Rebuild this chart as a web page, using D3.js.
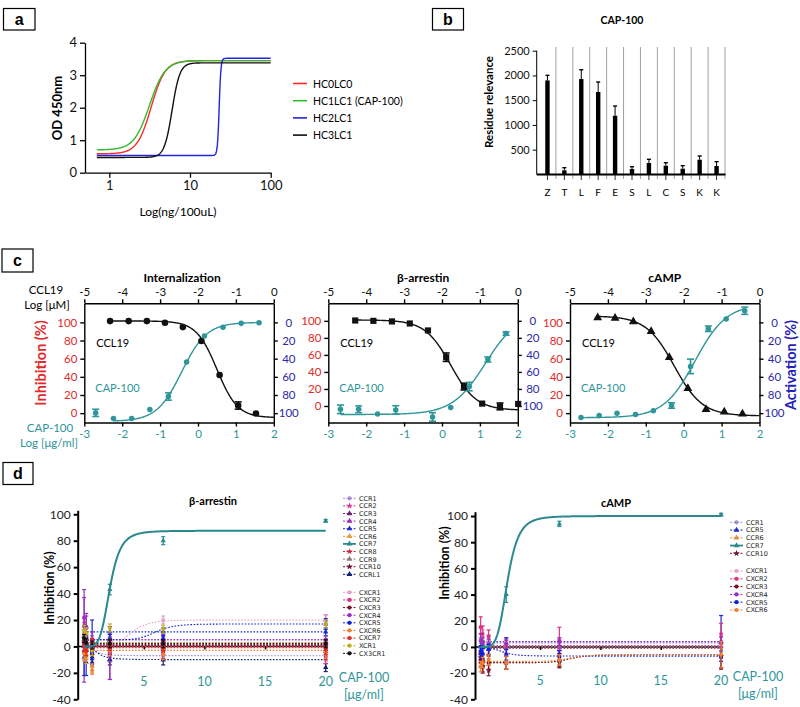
<!DOCTYPE html>
<html><head><meta charset="utf-8">
<script src="https://cdn.jsdelivr.net/npm/d3@7"></script>
<style>body{margin:0;background:#fff}svg{display:block}text{font-family:Lato,'Liberation Sans',Arial,sans-serif}</style>
</head><body><svg id="c" width="800" height="707"></svg>
<script>
// ================= DATA =================
// Panel a : ELISA 4PL fits
const aSeries = ["HC0LC0","HC1LC1 (CAP-100)","HC2LC1","HC3LC1"];
const aBottom = [0.58, 0.70, 0.53, 0.47];
const aTop    = [3.45, 3.45, 3.52, 3.38];
const aEC50   = [3.3, 3.15, 23, 6.0];
const aHill   = [5, 4.5, 40, 9];
const aXRange = [0.7, 100];
const aXTicks = [1, 10, 100];
const aYTicks = [0, 1, 2, 3, 4];
// Panel b : residue relevance
const bResidues = ["Z","T","L","F","E","S","L","C","S","K","K"];
const bValues = [1900, 83, 1927, 1665, 1186, 109, 230, 176, 115, 297, 170];
const bErrors = [102, 52, 188, 202, 196, 47, 75, 60, 61, 75, 87];
const bYTicks = [500, 1000, 1500, 2000, 2500];
// Panel c : dose responses (CCL19 log uM / CAP-100 log ug/ml)
const cTitles = ["Internalization", "β-arrestin", "cAMP"];
const cTopTicks = [-5, -4, -3, -2, -1, 0];
const cBottomTicks = [-3, -2, -1, 0, 1, 2];
const cLeftTicks = [0, 20, 40, 60, 80, 100];
const cLeftDomain = [[-10.3, 121], [-19.4, 120.6], [-10.3, 121]];
const ccl19X = [
  [-4.32,-3.83,-3.35,-2.87,-2.40,-1.91,-1.43,-0.94,-0.47],
  [-4.29,-3.81,-3.32,-2.85,-2.37,-1.89,-1.42,-0.94,-0.47,0.01],
  [-4.27,-3.81,-3.33,-2.86,-2.38,-1.89,-1.41,-0.93,-0.45]];
const ccl19Y = [
  [101.4,101.4,101.4,99.6,94.8,79.4,42,8.4,-0.4],
  [100.4,100,99.3,96.9,88.7,57.3,22.8,2.8,-0.5,2.4],
  [105.1,104.7,100.7,90,61.4,27.2,4.1,1.4,-0.8]];
const ccl19Err = [
  [0,0,0,0,0,0,0,4,0],
  [0,0,0,0,0,5,4,0,4,0],
  [0,0,0,0,0,0,0,0,0]];
const ccl19Fit = [[101.5,-5,-1.5,1.6],[101,-5,-1.77,1.28],[107,-3,-2.25,1.17]]; // top, bottom, logIC50, hill
const capX = [
  [-2.70,-2.23,-1.75,-1.27,-0.78,-0.30,0.17,0.66,1.14,1.61],
  [-2.68,-2.20,-1.70,-1.22,-0.25,0.23,0.72,1.21,1.69],
  [-2.71,-2.23,-1.76,-1.27,-0.80,-0.32,0.18,0.65,1.12,1.61]];
const capY = [
  [0.3,-5.9,-5.9,4,18.3,56.4,85,94.5,98.9,99.6],
  [-3.9,-3.9,-9.4,-4.7,-12.9,-1.9,22.8,54.6,85.1],
  [-4.8,-2.6,0,-1.5,2.6,8.4,51.5,93,103.6,112.8]];
const capErr = [
  [4,0,0,0,4,0,0,0,0,0],
  [5,4,0,5,5,0,5,3,2],
  [0,0,0,0,0,3,8,3,0,4]];
const capFit = [[-9,100,-0.43,1.32],[-10,110,1.144,1.0],[-5,120,0.3,1.05]]; // bottom, top, logEC50, hill
const capFitRange = [[-2.23,1.61],[-2.68,1.69],[-2.71,1.61]];
// Panel d : selectivity panel
const dDoses = [0.08, 0.25, 0.74, 2.2, 6.6, 20];
const dXTicks = [5, 10, 15, 20];
const dYTicks = [-40, -20, 0, 20, 40, 60, 80, 100];
const barrNames = ["CCR1","CCR2","CCR3","CCR4","CCR5","CCR6","CCR7","CCR8","CCR9","CCR10","CCRL1",
                   "CXCR1","CXCR2","CXCR3","CXCR4","CXCR5","CXCR6","CXCR7","XCR1","CX3CR1"];
const barrValues = [
  [3,-4,-6,-8,-7,-7],[12,8,2,0,-2,0],[5,2,0,1,0,2],[8,15,-5,-10,5,20],[-8,-12,3,11,11,11],
  [-5,-8,-15,3,0,0],[0,2,5,43,80,95],[2,0,-2,-1,-3,-5],[5,3,2,4,3,3],[6,4,2,3,2,2],
  [0,-3,-8,-10,-10,-16],[10,5,2,4,20,20],[15,8,0,-2,-5,-8],[4,2,0,2,1,0],[22,15,5,-5,6,5],
  [8,2,-5,5,5,17],[-5,-6,-18,-3,-6,-5],[0,-3,2,1,0,-2],[12,10,-3,14,13,17],[6,3,1,2,2,2]];
const barrErrors = [
  [4,4,4,4,4,4],[6,5,4,4,4,4],[3,3,3,3,3,3],[35,10,8,15,6,4],[14,10,17,4,3,3],
  [6,5,5,4,4,4],[3,3,3,4,3,1],[5,4,4,4,6,5],[3,3,3,3,3,3],[3,3,3,3,3,3],
  [4,4,4,4,4,3],[5,5,5,5,3,4],[6,6,5,5,5,5],[3,3,3,3,3,3],[15,8,6,20,3,3],
  [8,5,5,4,3,4],[5,4,3,4,4,4],[4,4,4,4,4,4],[4,4,4,3,3,3],[3,3,3,3,3,3]];
const barrFits = [ // start, end, mid, hill
  [0,-7,1.0,3],[1,1,1,1],[1,1,1,1],[5,5,1,1],[11,11,1,1],[0,0,1,1],[0,87.5,2.2,5],[-1,-1,1,1],
  [3,3,1,1],[2,2,1,1],[0,-10,1.2,3],[1,20,4,6],[0,0,1,1],[1,1,1,1],[5,5,1,1],[5,17,6,8],
  [-3,-3,1,1],[0,0,1,1],[3,3,1,1],[2,2,1,1]];
const campNames = ["CCR1","CCR5","CCR6","CCR7","CCR10","CXCR1","CXCR2","CXCR3","CXCR4","CXCR5","CXCR6"];
const campValues = [
  [-5,-2,2,3,3,3],[-5,-10,-2,3,-2,4],[-12,-10,-5,-12,-10,-6],[0,2,5,40,94,101],[-8,-15,-18,-12,-12,-7],
  [10,8,5,0,2,0],[15,10,8,0,5,10],[-10,-15,-12,-12,-10,-8],[5,3,2,2,4,4],[-3,-5,-2,-6,-7,-7],[-15,-12,-10,-12,-10,-6]];
const campErrors = [
  [4,4,4,4,4,4],[5,4,4,4,3,20],[4,4,4,5,5,5],[3,3,4,6,2,1],[4,4,4,5,4,10],
  [6,5,4,4,4,4],[8,6,5,5,10,8],[5,5,5,5,5,8],[5,4,4,4,3,4],[4,4,4,4,4,4],[4,4,4,5,4,10]];
const campFits = [
  [3,3,1,1],[4,4,1,1],[-12,-6,7.5,10],[0,100,2.3,5],[-12,-6,7.5,10],[0,0,1,1],[1,1,1,1],
  [-1,-1,1,1],[4,4,1,1],[-1,-7,2,4],[-11,-6,7.5,10]];

// ================= STYLES =================
const aColors = ["#ff2b2b","#2ebd2e","#2424e0","#111"];
const TEAL = "#2e9699", RED = "#e02a2a", BLUE = "#2a2aa8";
const barrColors = ["#a88ad0","#d0409a","#6a2070","#9a30b8","#1a2ad0","#e0a040","#2a8a8f","#c02a40","#8a7a7a","#701838","#102070",
                    "#e8a0c8","#e03080","#801030","#9a30c0","#1020e0","#f08030","#e02a20","#c0b020","#111111"];
const barrShapes = ["circle","star","triangle","triangle","triangle","triangle","triangle","star","triangle","star","triangle",
                    "circle","circle","circle","circle","circle","circle","circle","circle","circle"];
const campColors = ["#a090d0","#1a2ad0","#e09040","#2a8a8f","#701838","#e8a0c8","#e03080","#801030","#9a30c0","#1020e0","#f08030"];
const campShapes = ["circle","triangle","triangle","triangle","star","circle","circle","circle","circle","circle","circle"];

const svg = d3.select("#c");
const fmt = d => String(d);

function boxLabel(x, y, w, h, t) {
  svg.append("rect").attr("x", x).attr("y", y).attr("width", w).attr("height", h)
    .attr("fill", "none").attr("stroke", "#000").attr("stroke-width", 1.2);
  svg.append("text").attr("x", x + w / 2).attr("y", y + h / 2 + 5.5).attr("text-anchor", "middle")
    .attr("font-size", 16).attr("font-weight", 600).style("font-family", "'Liberation Sans',Arial,sans-serif").text(t);
}
function styleAxis(g, color, size, sw) {
  g.select(".domain").attr("stroke", "#000").attr("stroke-width", sw);
  g.selectAll(".tick line").attr("stroke", "#000").attr("stroke-width", sw);
  g.selectAll(".tick text").attr("fill", color).attr("font-size", size).style("font-family", "Lato,'Liberation Sans',Arial,sans-serif");
}
function sig4(b, t, c, h) { return x => b + (t - b) / (1 + Math.pow(c / x, h)); }
function sigLog(b, t, c, h) { return lx => b + (t - b) / (1 + Math.pow(10, (c - lx) * h)); }
const sym = {circle: d3.symbolCircle, triangle: d3.symbolTriangle, star: d3.symbolStar, square: d3.symbolSquare};

// ================= PANEL A =================
boxLabel(3.5, 8.5, 31.5, 21.5, "a");
{
  const x = d3.scaleLog().domain([0.5, 100]).range([85, 270.7]);
  const y = d3.scaleLinear().domain([0, 4]).range([172.7, 42.7]);
  const gx = svg.append("g").attr("transform", "translate(0,172.7)")
    .call(d3.axisBottom(x).tickValues(aXTicks).tickFormat(fmt).tickSize(5).tickSizeOuter(0));
  styleAxis(gx, "#111", 13, 1.3);
  const gy = svg.append("g").attr("transform", "translate(85,0)")
    .call(d3.axisLeft(y).tickValues(aYTicks).tickFormat(fmt).tickSize(5).tickSizeOuter(0));
  styleAxis(gy, "#111", 13, 1.3);
  const xs = d3.range(0, 601).map(i => aXRange[0] * Math.pow(aXRange[1] / aXRange[0], i / 600));
  aSeries.forEach((s, i) => {
    const f = sig4(aBottom[i], aTop[i], aEC50[i], aHill[i]);
    svg.append("path").attr("d", d3.line().x(d => x(d)).y(d => y(f(d)))(xs))
      .attr("fill", "none").attr("stroke", aColors[i]).attr("stroke-width", 1.4);
  });
  aSeries.forEach((s, i) => {
    const ly = 83.5 + i * 17.2;
    svg.append("line").attr("x1", 293).attr("x2", 307).attr("y1", ly).attr("y2", ly)
      .attr("stroke", aColors[i]).attr("stroke-width", 1.6);
    svg.append("text").attr("x", 313).attr("y", ly + 4).attr("font-size", 10.5).text(s);
  });
  svg.append("text").attr("transform", "translate(62,108) rotate(-90)").attr("text-anchor", "middle")
    .attr("font-size", 13).attr("font-weight", "bold").text("OD 450nm");
  svg.append("text").attr("x", 178).attr("y", 216).attr("text-anchor", "middle").attr("font-size", 12).text("Log(ng/100uL)");
}

// ================= PANEL B =================
boxLabel(432.5, 8.5, 31, 21.5, "b");
{
  const x = d3.scaleBand().domain(d3.range(bResidues.length)).range([539, 725]);
  const y = d3.scaleLinear().domain([0, 2500]).range([174.4, 50.7]);
  svg.append("text").attr("x", 622).attr("y", 24).attr("text-anchor", "middle").attr("font-size", 10.5)
    .attr("font-weight", "bold").text("CAP-100");
  bResidues.forEach((r, i) => {
    const gxp = x(i) + x.bandwidth();
    svg.append("line").attr("x1", gxp).attr("x2", gxp).attr("y1", 47).attr("y2", 179).attr("stroke", "#888").attr("stroke-width", 0.8);
  });
  const gy = svg.append("g").attr("transform", "translate(536.7,0)")
    .call(d3.axisLeft(y).tickValues(bYTicks).tickFormat(fmt).tickSize(4).tickSizeOuter(0));
  gy.select(".domain").attr("d", "M0,50.7V174.4");
  styleAxis(gy, "#111", 11, 1);
  svg.append("line").attr("x1", 536.7).attr("x2", 725.5).attr("y1", 174.4).attr("y2", 174.4).attr("stroke", "#000").attr("stroke-width", 2);
  bResidues.forEach((r, i) => {
    const cx = x(i) + x.bandwidth() / 2;
    svg.append("line").attr("x1", cx).attr("x2", cx).attr("y1", 174.4).attr("y2", 180).attr("stroke", "#000").attr("stroke-width", 0.8);
    svg.append("text").attr("x", cx).attr("y", 195.5).attr("text-anchor", "middle").attr("font-size", 10).text(r);
    svg.append("rect").attr("x", cx - 2.2).attr("width", 4.4).attr("y", y(bValues[i])).attr("height", y(0) - y(bValues[i])).attr("fill", "#000");
    const ye = y(bValues[i] + bErrors[i]);
    svg.append("line").attr("x1", cx).attr("x2", cx).attr("y1", y(bValues[i])).attr("y2", ye).attr("stroke", "#000").attr("stroke-width", 1);
    svg.append("line").attr("x1", cx - 2).attr("x2", cx + 2).attr("y1", ye).attr("y2", ye).attr("stroke", "#000").attr("stroke-width", 1.4);
  });
  svg.append("text").attr("transform", "translate(493,102) rotate(-90)").attr("text-anchor", "middle")
    .attr("font-size", 11.5).attr("font-weight", "bold").text("Residue relevance");
}

// ================= PANEL C =================
boxLabel(2, 249, 31, 23, "c");
{
  const lefts = [84.3, 328.3, 570], W = 189.5, T = 303.3, B = 422.5;
  svg.append("text").attr("x", 46).attr("y", 293.5).attr("text-anchor", "middle").attr("font-size", 11.5).text("CCL19");
  svg.append("text").attr("x", 47).attr("y", 308.5).attr("text-anchor", "middle").attr("font-size", 11.5).text("Log [μM]");
  svg.append("text").attr("x", 50).attr("y", 432).attr("text-anchor", "middle").attr("font-size", 11.5).attr("fill", TEAL).text("CAP-100");
  svg.append("text").attr("x", 49).attr("y", 447).attr("text-anchor", "middle").attr("font-size", 11.5).attr("fill", TEAL).text("Log [μg/ml]");
  svg.append("text").attr("transform", "translate(46,363) rotate(-90)").attr("text-anchor", "middle")
    .attr("font-size", 14.5).attr("font-weight", "bold").attr("fill", RED).text("Inhibition (%)");
  svg.append("text").attr("transform", "translate(796,365) rotate(-90)").attr("text-anchor", "middle")
    .attr("font-size", 14.5).attr("font-weight", "bold").attr("fill", "#2222b8").text("Activation (%)");
  const blackShapes = ["circle", "square", "triangle"];
  cTitles.forEach((title, i) => {
    const x0 = lefts[i], x1 = x0 + W;
    const xt = d3.scaleLinear().domain([-5, 0]).range([x0, x1]);
    const xb = d3.scaleLinear().domain([-3, 2]).range([x0, x1]);
    const y = d3.scaleLinear().domain(cLeftDomain[i]).range([B, T]);
    svg.append("text").attr("x", (x0 + x1) / 2 + (i === 0 ? 3 : 0)).attr("y", 282).attr("text-anchor", "middle")
      .attr("font-size", 12).attr("font-weight", "bold").text(title);
    const gt = svg.append("g").attr("transform", `translate(0,${T})`)
      .call(d3.axisTop(xt).tickValues(cTopTicks).tickFormat(fmt).tickSize(4).tickSizeOuter(0));
    styleAxis(gt, "#111", 11.5, 1.4);
    const gb = svg.append("g").attr("transform", `translate(0,${B})`)
      .call(d3.axisBottom(xb).tickValues(cBottomTicks).tickFormat(fmt).tickSize(4).tickSizeOuter(0));
    styleAxis(gb, TEAL, 11.5, 1.4);
    const gl = svg.append("g").attr("transform", `translate(${x0},0)`)
      .call(d3.axisLeft(y).tickValues(cLeftTicks).tickFormat(fmt).tickSize(4).tickSizeOuter(0));
    styleAxis(gl, RED, 11.5, 1.4);
    const gr = svg.append("g").attr("transform", `translate(${x1},0)`)
      .call(d3.axisRight(y).tickValues(cLeftTicks).tickFormat(d => String(100 - d)).tickSize(4).tickSizeOuter(0));
    styleAxis(gr, BLUE, 11.5, 1.4);
    gr.selectAll(".tick text").attr("text-anchor", "middle").attr("x", 15);
    svg.append("text").attr("x", x0 + 12).attr("y", 347).attr("font-size", 11).text("CCL19");
    svg.append("text").attr("x", x0 + 11).attr("y", 392).attr("font-size", 11).attr("fill", TEAL).text("CAP-100");
    const fb = ccl19Fit[i];
    const f1 = sigLog(fb[0], fb[1], fb[2], fb[3]);
    const xs1 = d3.range(0, 201).map(k => ccl19X[i][0] + (0 - ccl19X[i][0]) * k / 200);
    svg.append("path").attr("d", d3.line().x(d => xt(d)).y(d => y(f1(d)))(xs1))
      .attr("fill", "none").attr("stroke", "#111").attr("stroke-width", 1.4);
    const fc = capFit[i];
    const f2 = sigLog(fc[0], fc[1], fc[2], fc[3]);
    const r = capFitRange[i];
    const xs2 = d3.range(0, 201).map(k => r[0] + (r[1] - r[0]) * k / 200);
    svg.append("path").attr("d", d3.line().x(d => xb(d)).y(d => y(f2(d)))(xs2))
      .attr("fill", "none").attr("stroke", TEAL).attr("stroke-width", 1.4);
    function errBar(px, v, e, col) {
      if (!e) return;
      const a = y(v + e), b = y(v - e);
      svg.append("line").attr("x1", px).attr("x2", px).attr("y1", a).attr("y2", b).attr("stroke", col).attr("stroke-width", 1.6);
      [a, b].forEach(yy => svg.append("line").attr("x1", px - 3.5).attr("x2", px + 3.5).attr("y1", yy).attr("y2", yy).attr("stroke", col).attr("stroke-width", 1.6));
    }
    ccl19X[i].forEach((v, k) => errBar(xt(v), ccl19Y[i][k], ccl19Err[i][k], "#111"));
    capX[i].forEach((v, k) => errBar(xb(v), capY[i][k], capErr[i][k], TEAL));
    const bs = blackShapes[i];
    ccl19X[i].forEach((v, k) => {
      svg.append("path").attr("transform", `translate(${xt(v)},${y(ccl19Y[i][k])})`)
        .attr("d", d3.symbol().type(sym[bs]).size(bs === "square" ? 38 : 34)()).attr("fill", "#111");
    });
    capX[i].forEach((v, k) => {
      svg.append("path").attr("transform", `translate(${xb(v)},${y(capY[i][k])})`)
        .attr("d", d3.symbol().type(d3.symbolCircle).size(24)()).attr("fill", TEAL);
    });
  });
}

// ================= PANEL D =================
boxLabel(3, 462.5, 30, 22, "d");
function panelD(cfg) {
  const x = d3.scaleLinear().domain(cfg.xDom).range(cfg.xRange);
  const y = d3.scaleLinear().domain(cfg.yDom).range(cfg.yRange);
  svg.append("text").attr("x", cfg.titleX).attr("y", cfg.titleY).attr("text-anchor", "middle")
    .attr("font-size", 11).attr("font-weight", "bold").text(cfg.title);
  svg.append("text").attr("transform", `translate(${cfg.ylabX},${cfg.ylabY}) rotate(-90)`).attr("text-anchor", "middle")
    .attr("font-size", 12.5).attr("font-weight", "bold").text("Inhibition (%)");
  const gy = svg.append("g").attr("transform", `translate(${cfg.xRange[0]},0)`)
    .call(d3.axisLeft(y).tickValues(dYTicks).tickFormat(fmt).tickSize(4).tickSizeOuter(0));
  styleAxis(gy, "#222", 12, 2);
  const gx = svg.append("g").attr("transform", `translate(0,${y(0)})`)
    .call(d3.axisBottom(x).tickValues(dXTicks).tickFormat("").tickSize(3).tickSizeOuter(0));
  gx.select(".domain").attr("d", `M${cfg.xRange[0]},0H${x(20)}`);
  styleAxis(gx, "#222", 12, 1.5);
  dXTicks.forEach(t => svg.append("text").attr("x", x(t)).attr("y", cfg.tickLabY).attr("text-anchor", "middle")
    .attr("font-size", 12.5).attr("fill", TEAL).text(t));
  svg.append("text").attr("x", cfg.capX).attr("y", cfg.tickLabY - 4).attr("text-anchor", "middle").attr("font-size", 12.5).attr("fill", TEAL).text("CAP-100");
  svg.append("text").attr("x", cfg.capX).attr("y", cfg.tickLabY + 13).attr("text-anchor", "middle").attr("font-size", 12.5).attr("fill", TEAL).text("[μg/ml]");
  const xsFit = d3.range(0, 301).map(k => 0.06 + (20 - 0.06) * k / 300);
  const teal = cfg.names.indexOf("CCR7");
  cfg.names.forEach((n, i) => {
    if (i === teal) return;
    const p = cfg.fits[i];
    const f = sig4(p[0], p[1], p[2], p[3]);
    svg.append("path").attr("d", d3.line().x(d => x(d)).y(d => y(f(d)))(xsFit))
      .attr("fill", "none").attr("stroke", cfg.colors[i]).attr("stroke-width", 1.1).attr("stroke-dasharray", "1.6,1.6");
  });
  cfg.names.forEach((n, i) => {
    cfg.values[i].forEach((v, k) => {
      const px = x(dDoses[k]), e = cfg.errors[i][k], a = y(v + e), b = y(v - e);
      svg.append("line").attr("x1", px).attr("x2", px).attr("y1", a).attr("y2", b).attr("stroke", cfg.colors[i]).attr("stroke-width", 1.2);
      [a, b].forEach(yy => svg.append("line").attr("x1", px - 2).attr("x2", px + 2).attr("y1", yy).attr("y2", yy).attr("stroke", cfg.colors[i]).attr("stroke-width", 1.2));
      svg.append("path").attr("transform", `translate(${px},${y(v)})`)
        .attr("d", d3.symbol().type(sym[cfg.shapes[i]]).size(12)()).attr("fill", cfg.colors[i]);
    });
  });
  {
    const p = cfg.fits[teal];
    const f = sig4(p[0], p[1], p[2], p[3]);
    const xs = d3.range(0, 401).map(k => 0.05 + (20 - 0.05) * k / 400);
    svg.append("path").attr("d", d3.line().x(d => x(d)).y(d => y(f(d)))(xs))
      .attr("fill", "none").attr("stroke", "#2a8a8f").attr("stroke-width", 2);
  }
  cfg.names.forEach((n, i) => {
    const ly = cfg.legendYs[i];
    svg.append("line").attr("x1", cfg.legX).attr("x2", cfg.legX + 13).attr("y1", ly).attr("y2", ly)
      .attr("stroke", cfg.colors[i]).attr("stroke-width", n === "CCR7" ? 1.8 : 1).attr("stroke-dasharray", n === "CCR7" ? null : "2,1.5");
    svg.append("path").attr("transform", `translate(${cfg.legX + 6.5},${ly})`)
      .attr("d", d3.symbol().type(sym[cfg.shapes[i]]).size(14)()).attr("fill", cfg.colors[i]);
    svg.append("text").attr("x", cfg.legX + 16).attr("y", ly + 2.4).attr("font-size", 6.5)
      .style("font-family", "'DejaVu Sans',Verdana,sans-serif").attr("fill", "#222").text(n);
  });
}
const barrLegY = barrNames.map((n, i) => i < 11 ? 498.3 + i * 7.6 : 592.3 + (i - 11) * 7.63);
panelD({
  xDom: [-0.45, 20], xRange: [77.7, 325.7], yDom: [-40, 103], yRange: [699.3, 510.3],
  title: "β-arrestin", titleX: 213, titleY: 505, ylabX: 54, ylabY: 588, tickLabY: 686, capX: 364,
  names: barrNames, values: barrValues, errors: barrErrors, fits: barrFits, colors: barrColors, shapes: barrShapes,
  legX: 343, legendYs: barrLegY
});
const campLegY = campNames.map((n, i) => i < 5 ? 522.3 + i * 7.75 : 571 + (i - 5) * 7.8);
panelD({
  xDom: [-0.39, 20], xRange: [475, 721.1], yDom: [-40, 103.3], yRange: [699.3, 511.7],
  title: "cAMP", titleX: 616, titleY: 506.5, ylabX: 449, ylabY: 563, tickLabY: 685, capX: 758,
  names: campNames, values: campValues, errors: campErrors, fits: campFits, colors: campColors, shapes: campShapes,
  legX: 730, legendYs: campLegY
});
</script></body></html>
